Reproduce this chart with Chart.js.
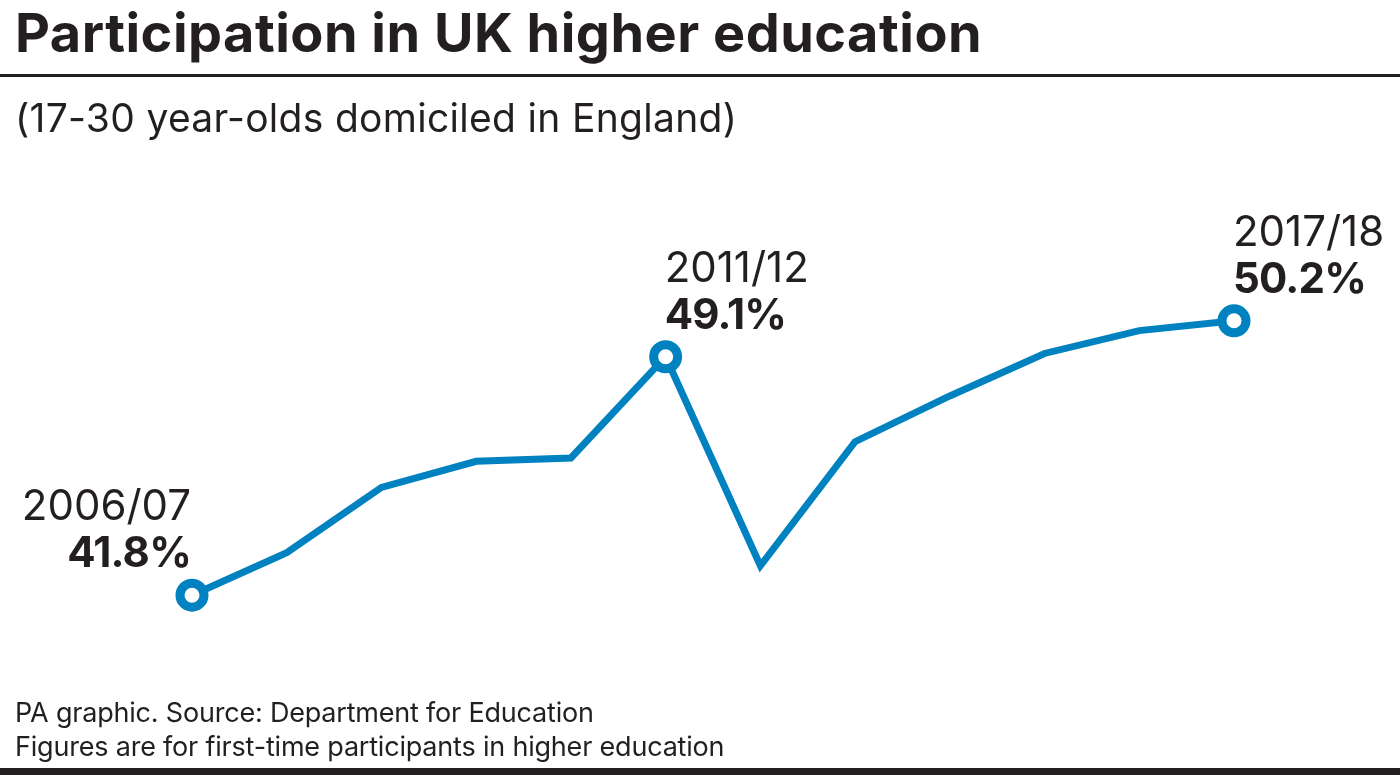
<!DOCTYPE html>
<html>
<head>
<meta charset="utf-8">
<script src="https://cdn.jsdelivr.net/npm/chart.js@4/dist/chart.umd.min.js"></script>
<style>
  body { margin: 0; background: #fff; }
  #wrap { position: relative; width: 1400px; height: 775px; overflow: hidden; font-family: Inter, sans-serif; color: #231f20; }
  #chart { position: absolute; left: 0; top: 0; }
  .txt { position: absolute; left: 15px; line-height: 1; white-space: nowrap; }
  #title { top: 6px; font-size: 54px; font-weight: 700; letter-spacing: 0.5px; }
  #sub { top: 98px; font-size: 39px; font-weight: 400; letter-spacing: 0.3px; }
  .foot { font-size: 27px; letter-spacing: -0.2px; }
  #rule { position: absolute; left: 0; top: 74px; width: 1400px; height: 3px; background: #231f20; }
  #bar { position: absolute; left: 0; top: 768px; width: 1400px; height: 7px; background: #231f20; }
</style>
</head>
<body>
<div id="wrap">
  <canvas id="chart" width="1400" height="775"></canvas>
  <div class="txt" id="title">Participation in UK higher education</div>
  <div id="rule"></div>
  <div class="txt" id="sub">(17-30 year-olds domiciled in England)</div>
  <div class="txt foot" style="top:699px">PA graphic. Source: Department for Education</div>
  <div class="txt foot" style="top:733px">Figures are for first-time participants in higher education</div>
  <div id="bar"></div>
</div>
<script>
const years = ['2006/07', '2007/08', '2008/09', '2009/10', '2010/11', '2011/12',
               '2012/13', '2013/14', '2014/15', '2015/16', '2016/17', '2017/18'];
const participation = [41.8, 43.1, 45.1, 45.9, 46.0, 49.1, 42.7, 46.5, 47.9, 49.2, 49.9, 50.2];
const labelled = [0, 5, 11];

const blue = '#0082c0';

// year + value labels beside the highlighted points
const pointLabels = {
    id: 'pointLabels',
    afterDatasetsDraw(chart) {
        const ctx = chart.ctx;
        const meta = chart.getDatasetMeta(0);
        ctx.save();
        ctx.fillStyle = '#231f20';
        ctx.textBaseline = 'alphabetic';
        labelled.forEach(i => {
            const pt = meta.data[i];
            const first = i === 0;
            ctx.textAlign = first ? 'right' : 'left';
            const x = first ? pt.x - 1 : pt.x - 1;
            ctx.letterSpacing = '0px';
            ctx.font = '400 42px Inter';
            ctx.fillText(years[i], x, pt.y - 75);
            ctx.letterSpacing = '-0.8px';
            ctx.font = '700 42px Inter';
            ctx.fillText(participation[i].toFixed(1) + '%', x, pt.y - 28);
        });
        ctx.restore();
    }
};

new Chart(document.getElementById('chart'), {
    type: 'line',
    data: {
        labels: years,
        datasets: [{
            data: participation,
            borderColor: blue,
            borderWidth: 7,
            borderJoinStyle: 'miter',
            tension: 0,
            pointRadius: years.map((_, i) => labelled.includes(i) ? 12 : 0),
            pointBorderWidth: 9,
            pointBackgroundColor: '#fff',
            pointBorderColor: blue,
            clip: false
        }]
    },
    options: {
        responsive: false,
        animation: false,
        layout: { padding: { left: 192, right: 166, top: 262, bottom: 121 } },
        plugins: { legend: { display: false }, tooltip: { enabled: false } },
        scales: {
            x: { display: false, offset: false },
            y: { display: false, min: 40, max: 52 }
        }
    },
    plugins: [pointLabels]
});
</script>
</body>
</html>
